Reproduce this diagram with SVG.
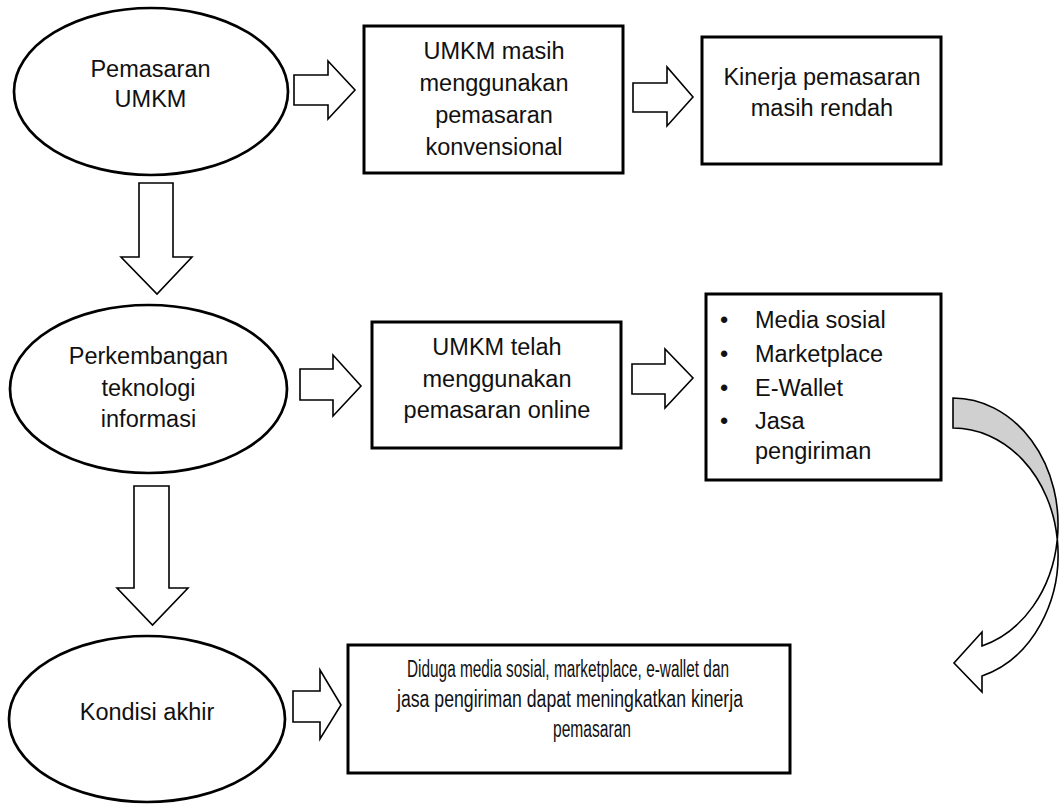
<svg xmlns="http://www.w3.org/2000/svg" width="1060" height="805" viewBox="0 0 1060 805">
<style>
.t{font-family:"Liberation Sans",Arial,sans-serif;font-size:23.5px;fill:#111;text-anchor:middle}
.l{font-family:"Liberation Sans",Arial,sans-serif;font-size:23.5px;fill:#111}
.el{fill:#fff;stroke:#000;stroke-width:2.7}
.bx{fill:#fff;stroke:#000;stroke-width:3}
.ar{fill:#fff;stroke:#000;stroke-width:1.6;stroke-linejoin:miter}
.back{fill:#d0d0d0;stroke:#000;stroke-width:1.6}
</style>
<rect width="1060" height="805" fill="#fff"/>
<g id="connectors">
<polygon class="ar" points="294,75 328,75 328,61 355,90 328,119 328,105 294,105"/>
<polygon class="ar" points="633,83 667,83 667,67 693,97 667,126 667,112 633,112"/>
<polygon class="ar" points="300,369 333,369 333,355 361,386 333,416 333,400 300,400"/>
<polygon class="ar" points="632,364 665,364 665,349 693,378 665,408 665,394 632,394"/>
<polygon class="ar" points="293,691 320,691 320,670 341,705 320,739 320,722 293,722"/>
<polygon class="ar" points="139,183 173,183 173,257 192,257 157,294 121,257 139,257"/>
<polygon class="ar" points="134,486 169,486 169,588 188,588 152.5,625 117,588 134,588"/>
<g id="curved-arrow">
<path class="back" d="M953,398 A105,126.4 0 0 1 1057.3,539.4 A105,126.4 0 0 0 953,428 Z"/>
<path class="ar" d="M1057.3,539.4 A105,126.4 0 0 1 982,676 L982,692 L954,663 L982,632 L982,646 A105,126.4 0 0 0 1057.3,539.4 Z"/>
</g>
</g>
<g id="n-pemasaran">
<ellipse class="el" cx="151" cy="91.5" rx="137" ry="83.5"/>
<text class="t" x="150.5" y="77">Pemasaran</text>
<text class="t" x="150.5" y="107">UMKM</text>
</g>
<g id="n-konvensional">
<rect class="bx" x="364" y="26" width="259" height="147"/>
<text class="t" x="494" y="59">UMKM masih</text>
<text class="t" x="494" y="91">menggunakan</text>
<text class="t" x="494" y="123">pemasaran</text>
<text class="t" x="494" y="155">konvensional</text>
</g>
<g id="n-kinerja-rendah">
<rect class="bx" x="702" y="37" width="239" height="127"/>
<text class="t" x="822" y="85">Kinerja pemasaran</text>
<text class="t" x="822" y="116">masih rendah</text>
</g>
<g id="n-teknologi">
<ellipse class="el" cx="148.5" cy="389" rx="138.5" ry="84"/>
<text class="t" x="148.5" y="364">Perkembangan</text>
<text class="t" x="148.5" y="396">teknologi</text>
<text class="t" x="148.5" y="427">informasi</text>
</g>
<g id="n-online">
<rect class="bx" x="372" y="322" width="249" height="126"/>
<text class="t" x="497" y="355">UMKM telah</text>
<text class="t" x="497" y="387">menggunakan</text>
<text class="t" x="497" y="418">pemasaran online</text>
</g>
<g id="n-list">
<rect class="bx" x="706" y="294" width="235" height="186"/>
<text class="t" x="724" y="328">•</text>
<text class="l" x="755" y="328">Media sosial</text>
<text class="t" x="724" y="362">•</text>
<text class="l" x="755" y="362">Marketplace</text>
<text class="t" x="724" y="396">•</text>
<text class="l" x="755" y="396">E-Wallet</text>
<text class="t" x="724" y="429">•</text>
<text class="l" x="755" y="429">Jasa</text>
<text class="l" x="755" y="459">pengiriman</text>
</g>
<g id="n-kondisi">
<ellipse class="el" cx="147" cy="719" rx="138" ry="83"/>
<text class="t" x="147" y="720">Kondisi akhir</text>
</g>
<g id="n-diduga">
<rect class="bx" x="348" y="645" width="442" height="128"/>
<text class="t" x="568" y="677" font-size="24" textLength="322" lengthAdjust="spacingAndGlyphs">Diduga media sosial, marketplace, e-wallet dan</text>
<text class="t" x="570" y="707" font-size="24" textLength="346" lengthAdjust="spacingAndGlyphs">jasa pengiriman dapat meningkatkan kinerja</text>
<text class="t" x="592" y="737" font-size="24" textLength="78" lengthAdjust="spacingAndGlyphs">pemasaran</text>
</g>
</svg>
